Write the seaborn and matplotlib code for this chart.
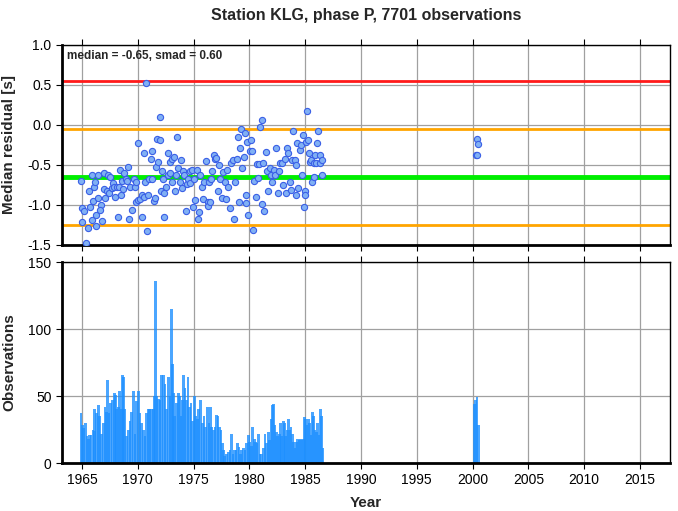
import numpy as np
import pandas as pd
import matplotlib
matplotlib.use("Agg")
import matplotlib.pyplot as plt
import seaborn as sns

# ---- data ----
res_year = [1964.91, 1964.97, 1964.97, 1965.33, 1965.21, 1965.57, 1965.69, 1965.63, 1965.87, 1966.10,
            1966.16, 1965.93, 1965.99, 1966.28, 1966.22, 1966.46, 1966.40, 1966.70, 1966.58, 1966.82,
            1966.94, 1967.00, 1967.06, 1967.24, 1967.30, 1967.42, 1967.54, 1967.66, 1967.78, 1967.90,
            1967.96, 1968.14, 1968.26, 1968.31, 1968.43, 1968.49, 1968.61, 1968.67, 1968.79, 1968.91,
            1969.03, 1969.09, 1969.21, 1969.33, 1969.51, 1969.63, 1969.75, 1969.87, 1969.99, 1969.81,
            1970.05, 1970.23, 1970.35, 1970.41, 1970.53, 1970.59, 1970.65, 1970.82, 1970.76, 1970.94,
            1971.00, 1971.24, 1971.18, 1971.30, 1971.42, 1971.54, 1971.60, 1971.72, 1971.84, 1971.96,
            1972.02, 1972.08, 1972.14, 1972.26, 1972.32, 1972.38, 1972.56, 1972.68, 1972.74, 1972.86,
            1972.92, 1973.03, 1973.09, 1973.21, 1973.33, 1973.45, 1973.51, 1973.63, 1973.75, 1973.87,
            1973.93, 1974.05, 1974.17, 1974.29, 1974.41, 1974.53, 1974.65, 1974.71, 1974.83, 1974.95,
            1975.07, 1975.13, 1975.31, 1975.42, 1975.48, 1975.60, 1975.72, 1975.84, 1975.96, 1976.08,
            1976.26, 1976.32, 1976.38, 1976.50, 1976.56, 1976.68, 1976.80, 1976.92, 1977.04, 1977.16,
            1977.28, 1977.40, 1977.51, 1977.63, 1977.81, 1977.93, 1977.99, 1978.11, 1978.23, 1978.35,
            1978.53, 1978.65, 1978.71, 1978.89, 1979.01, 1979.07, 1979.19, 1979.25, 1979.37, 1979.49,
            1979.61, 1979.67, 1979.73, 1979.79, 1979.91, 1980.02, 1980.14, 1980.26, 1980.32, 1980.44,
            1980.56, 1980.68, 1980.80, 1980.86, 1980.98, 1981.10, 1981.16, 1981.22, 1981.34, 1981.52,
            1981.58, 1981.70, 1981.82, 1981.94, 1982.06, 1982.18, 1982.30, 1982.42, 1982.54, 1982.66,
            1982.78, 1982.90, 1983.02, 1983.20, 1983.32, 1983.38, 1983.50, 1983.62, 1983.74, 1983.86,
            1983.92, 1984.10, 1984.16, 1984.22, 1984.28, 1984.40, 1984.52, 1984.64, 1984.70, 1984.82,
            1984.88, 1984.94, 1984.99, 1985.05, 1985.17, 1985.29, 1985.35, 1985.41, 1985.53, 1985.65,
            1985.77, 1985.83, 1985.89, 1985.99, 1986.05, 1986.17, 1986.29, 1986.35, 1986.47, 1986.53,
            2000.40, 2000.48, 2000.30, 2000.36]
res_value = [-0.70, -1.04, -1.21, -1.47, -1.08, -1.29, -1.02, -0.82, -0.62, -0.77,
             -0.71, -1.19, -0.95, -1.13, -1.26, -0.62, -0.91, -1.00, -1.06, -1.20,
             -0.80, -0.60, -0.91, -0.83, -0.63, -0.85, -0.65, -0.79, -0.73, -0.78,
             -0.90, -0.77, -1.15, -0.78, -0.56, -0.87, -0.70, -0.80, -0.60, -0.67,
             -0.70, -0.52, -1.18, -0.78, -1.06, -0.67, -0.78, -0.71, -0.22, -0.96,
             -0.94, -0.92, -1.15, -0.88, -0.90, -0.35, -0.71, -1.33, 0.52, -0.88,
             -0.68, -0.33, -0.42, -0.68, -0.95, -0.91, -0.52, -0.17, -0.46, 0.10,
             -0.19, -0.83, -0.58, -0.67, -1.15, -0.85, -0.77, -0.63, -0.35, -0.46,
             -0.60, -0.42, -0.71, -0.40, -0.82, -0.63, -0.15, -0.54, -0.71, -0.44,
             -0.79, -0.58, -0.63, -1.07, -0.74, -0.68, -0.58, -0.73, -0.56, -1.03,
             -0.67, -0.94, -0.56, -1.17, -1.09, -0.62, -0.77, -0.92, -0.71, -0.45,
             -0.96, -1.01, -0.71, -0.96, -0.67, -0.58, -0.37, -0.42, -0.41, -0.83,
             -0.50, -0.67, -0.91, -0.59, -0.71, -0.92, -0.56, -0.77, -1.04, -0.48,
             -0.44, -1.17, -0.71, -0.42, -0.15, -0.96, -0.29, -0.05, -0.54, -0.40,
             -0.10, -0.88, -0.98, -0.21, -1.13, -0.33, -0.19, -0.33, -1.31, -0.70,
             -0.90, -0.49, -0.66, -0.49, -0.02, -0.99, 0.06, -0.48, -1.08, -0.34,
             -0.58, -0.83, -0.54, -0.63, -0.71, -0.56, -0.63, -0.29, -0.85, -0.58,
             -0.48, -0.48, -0.75, -0.42, -0.85, -0.29, -0.35, -0.71, -0.81, -0.44,
             -0.08, -0.44, -0.50, -0.87, -0.23, -0.79, -0.31, -0.25, -0.63, -0.13,
             -1.02, -0.83, -0.88, -0.21, 0.17, -0.19, -0.35, -0.46, -0.44, -0.71,
             -0.65, -0.48, -0.38, -0.48, -0.22, -0.08, -0.38, -0.48, -0.63, -0.44,
             -0.17, -0.24, -0.37, -0.38]

obs_year = [1964.91, 1965.03, 1965.15, 1965.33, 1965.45, 1965.57, 1965.69, 1965.81, 1965.99, 1966.10,
            1966.16, 1966.31, 1966.46, 1966.61, 1966.76, 1966.91, 1967.06, 1967.18, 1967.30, 1967.42,
            1967.57, 1967.72, 1967.90, 1968.02, 1968.11, 1968.26, 1968.40, 1968.55, 1968.67, 1968.76,
            1968.85, 1969.00, 1969.15, 1969.30, 1969.45, 1969.63, 1969.75, 1969.90, 1970.05, 1970.20,
            1970.35, 1970.50, 1970.65, 1970.79, 1970.94, 1971.09, 1971.24, 1971.39, 1971.48, 1971.60,
            1971.72, 1971.84, 1971.99, 1972.14, 1972.29, 1972.44, 1972.59, 1972.74, 1972.89, 1973.00,
            1973.09, 1973.21, 1973.33, 1973.48, 1973.63, 1973.75, 1973.87, 1973.99, 1974.08, 1974.23,
            1974.38, 1974.50, 1974.62, 1974.77, 1974.89, 1975.07, 1975.19, 1975.33, 1975.48, 1975.63,
            1975.78, 1975.93, 1976.08, 1976.26, 1976.38, 1976.50, 1976.62, 1976.77, 1976.92, 1977.04,
            1977.19, 1977.34, 1977.46, 1977.57, 1977.69, 1977.81, 1977.96, 1978.11, 1978.26, 1978.38,
            1978.53, 1978.65, 1978.80, 1978.92, 1979.07, 1979.19, 1979.31, 1979.46, 1979.61, 1979.76,
            1979.91, 1980.05, 1980.20, 1980.32, 1980.44, 1980.56, 1980.68, 1980.80, 1980.95, 1981.10,
            1981.25, 1981.40, 1981.55, 1981.70, 1981.82, 1981.94, 1982.06, 1982.18, 1982.30, 1982.42,
            1982.54, 1982.66, 1982.78, 1982.90, 1983.02, 1983.13, 1983.25, 1983.37, 1983.49, 1983.61,
            1983.73, 1983.85, 1983.97, 1984.09, 1984.21, 1984.33, 1984.45, 1984.57, 1984.69, 1984.81,
            1984.93, 1985.05, 1985.16, 1985.28, 1985.40, 1985.52, 1985.64, 1985.76, 1985.88, 1986.00,
            1986.12, 1986.24, 1986.36, 1986.48, 1986.60,
            2000.20, 2000.30, 2000.40, 2000.55]
obs_count = [37, 28, 26, 30, 20, 18, 21, 21, 25, 24,
             40, 37, 43, 35, 22, 30, 42, 38, 62, 37,
             45, 47, 52, 51, 40, 42, 54, 40, 66, 64,
             40, 20, 25, 31, 38, 54, 22, 46, 54, 37,
             30, 25, 20, 37, 40, 40, 40, 40, 50, 136,
             50, 48, 47, 66, 66, 59, 40, 64, 50, 115,
             74, 52, 35, 45, 52, 50, 35, 47, 66, 56,
             47, 64, 42, 45, 31, 50, 35, 33, 40, 47,
             30, 35, 27, 42, 30, 42, 27, 25, 27, 36,
             35, 27, 25, 15, 10, 5, 7, 8, 10, 22,
             7, 10, 10, 15, 12, 7, 10, 11, 10, 15,
             21, 16, 13, 27, 18, 16, 15, 22, 7, 7,
             11, 22, 15, 23, 17, 33, 43, 44, 28, 23,
             20, 22, 30, 20, 31, 30, 20, 25, 33, 25,
             27, 22, 16, 11, 16, 18, 17, 18, 17, 18,
             34, 33, 28, 33, 30, 21, 38, 35, 25, 23,
             30, 21, 40, 35, 11,
             44, 47, 49, 28]

median_val = -0.65
smad_val = 0.60
title = "Station KLG, phase P, 7701 observations"
year_ticks = [1965, 1970, 1975, 1980, 1985, 1990, 1995, 2000, 2005, 2010, 2015]

# ---- style ----
sns.set_theme(style="white")
plt.rcParams['font.family'] = ['Liberation Sans', 'DejaVu Sans']

fig = plt.figure(figsize=(6.78, 5.11), dpi=100)
ax1 = fig.add_axes([62/678, 1-245/511, 608/678, 200/511])
ax2 = fig.add_axes([62/678, 1-463/511, 608/678, 201/511])

xlim = (1963.21, 2017.69)
grid_kw = dict(color="#a0a0a0", lw=0.9, zorder=0)

for ax in (ax1, ax2):
    ax.set_xlim(*xlim)
    ax.set_xticks(year_ticks)
    ax.grid(True, **grid_kw)
    ax.set_axisbelow(True)
    for side in ("left", "bottom"):
        ax.spines[side].set_linewidth(2.0)
    for side in ("top", "right"):
        ax.spines[side].set_linewidth(1.0)
    for s in ax.spines.values():
        s.set_color("black")
    ax.tick_params(axis="x", which="both", direction="out", length=4, width=0.8,
                   top=True, bottom=True, labelsize=10, colors="black")
    ax.tick_params(axis="y", direction="out", length=4, width=0.8, left=True,
                   right=False, labelsize=10, colors="black")

# top panel
ax1.set_ylim(-1.5, 1.0)
ax1.set_yticks([-1.5, -1.0, -0.5, 0.0, 0.5, 1.0])
ax1.set_yticklabels(["-1.5", "-1.0", "-0.5", "0.0", "0.5", "1.0"])
ax1.set_xticklabels([])
ax1.axhline(median_val + 2 * smad_val, color="#ff1a1a", lw=2, zorder=2)
ax1.axhline(median_val + smad_val, color="#ffa500", lw=2, zorder=2)
ax1.axhline(median_val - smad_val, color="#ffa500", lw=2, zorder=2)
ax1.axhline(median_val, color="#00ee00", lw=3.5, zorder=2)
df = pd.DataFrame({"year": res_year, "value": res_value})
sns.scatterplot(data=df, x="year", y="value", ax=ax1, s=20, color="#80b0f4",
                edgecolor="#3a5fe6", linewidth=0.8, zorder=3, legend=False)
ax1.set_xlabel("")
ax1.set_ylabel("Median residual [s]", fontsize=11, fontweight="bold")
ax1.yaxis.set_label_coords(-0.075, 0.5)
ax1.text(0.008, 0.975, f"median = {median_val:.2f}, smad = {smad_val:.2f}",
         transform=ax1.transAxes, ha="left", va="top", fontsize=8.5, fontweight="bold")

# bottom panel
ax2.bar(obs_year, obs_count, width=0.26, color="#1e90ff", alpha=0.8, linewidth=0,
        antialiased=False, zorder=2)
ax2.set_ylim(0, 150)
ax2.set_yticks([0, 50, 100, 150])
ax2.set_xticklabels([str(y) for y in year_ticks])
ax2.set_ylabel("Observations", fontsize=11, fontweight="bold")
ax2.yaxis.set_label_coords(-0.075, 0.5)
ax2.set_xlabel("Year", fontsize=11, fontweight="bold", labelpad=6)

fig.suptitle(title, x=366/678, y=1-8/511, va="top", fontsize=11.5, fontweight="bold")

fig.savefig("out.png", dpi=100)
